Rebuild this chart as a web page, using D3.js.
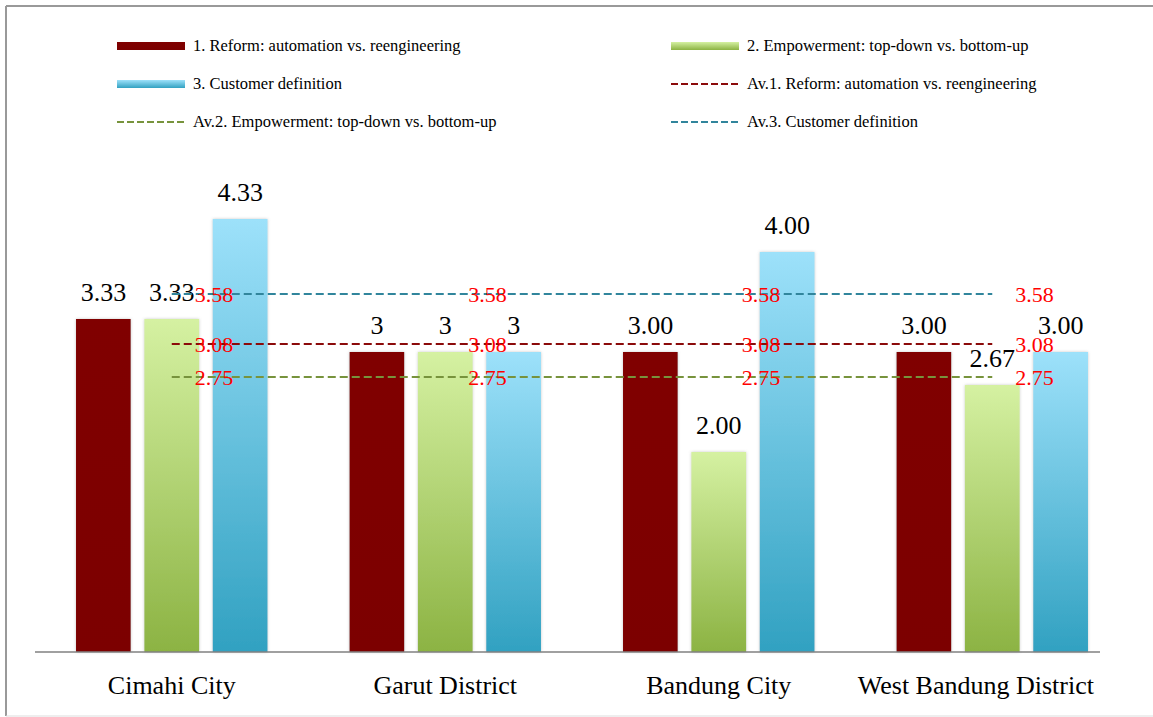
<!DOCTYPE html>
<html>
<head>
<meta charset="utf-8">
<script src="https://cdn.jsdelivr.net/npm/d3@7"></script>
<style>
  body { margin: 0; background: #fff; }
  text { font-family: "Liberation Serif", "Times New Roman", serif; }
</style>
</head>
<body>
<svg id="chart" width="1153" height="717"></svg>
<script>
const categories = ['Cimahi City', 'Garut District', 'Bandung City', 'West Bandung District']
const series = ['1. Reform: automation vs. reengineering', '2. Empowerment: top-down vs. bottom-up', '3. Customer definition']
const reform = [3.33, 3, 3, 3]
const empowerment = [3.33, 3, 2, 2.67]
const customer = [4.33, 3, 4, 3]
const reformLabels = ['3.33', '3', '3.00', '3.00']
const empowermentLabels = ['3.33', '3', '2.00', '2.67']
const customerLabels = ['4.33', '3', '4.00', '3.00']
const averages = [3.08, 2.75, 3.58]
const averageNames = ['Av.1. Reform: automation vs. reengineering', 'Av.2. Empowerment: top-down vs. bottom-up', 'Av.3. Customer definition']

const values = [reform, empowerment, customer]
const labels = [reformLabels, empowermentLabels, customerLabels]
const fills = ['url(#gRed)', 'url(#gGreen)', 'url(#gBlue)']
const lineColors = ['#8b0a0a', '#77933c', '#31859c']

const svg = d3.select('#chart')

// frame
svg.append('line').attr('x1', 6).attr('x2', 1153).attr('y1', 6).attr('y2', 6).attr('stroke', '#999').attr('stroke-width', 2)
svg.append('line').attr('x1', 6).attr('x2', 6).attr('y1', 6).attr('y2', 716).attr('stroke', '#999').attr('stroke-width', 2)
svg.append('line').attr('x1', 6).attr('x2', 1153).attr('y1', 716).attr('y2', 716).attr('stroke', '#ddd').attr('stroke-width', 1)

const defs = svg.append('defs')
function grad (id, top, bottom) {
  const g = defs.append('linearGradient').attr('id', id).attr('x1', 0).attr('x2', 0).attr('y1', 0).attr('y2', 1)
  g.append('stop').attr('offset', '0%').attr('stop-color', top)
  g.append('stop').attr('offset', '100%').attr('stop-color', bottom)
}
grad('gRed', '#800000', '#7c0000')
grad('gGreen', '#d5f1a2', '#8cb343')
grad('gBlue', '#9de1fa', '#31a1c1')
const f = defs.append('filter').attr('id', 'shadow').attr('x', '-20%').attr('y', '-5%').attr('width', '140%').attr('height', '110%')
f.append('feDropShadow').attr('dx', 0).attr('dy', 0).attr('stdDeviation', 1.5).attr('flood-color', '#888').attr('flood-opacity', 0.45)

const x = d3.scaleBand().domain(categories).range([35, 1129])
const xSub = d3.scaleBand().domain([0, 1, 2]).range([0, x.bandwidth()]).paddingInner(0.2).paddingOuter(0.6)
const y = d3.scaleLinear().domain([0, 5]).range([652, 152])

// bars
values.forEach((vals, s) => {
  svg.append('g').selectAll('rect')
    .data(vals)
    .enter()
    .append('rect')
    .attr('x', (d, i) => x(categories[i]) + xSub(s))
    .attr('y', d => y(d))
    .attr('width', xSub.bandwidth())
    .attr('height', d => y(0) - y(d))
    .attr('fill', fills[s])
    .attr('filter', 'url(#shadow)')
})

// axis baseline
svg.append('line').attr('x1', 35).attr('x2', 1100).attr('y1', y(0)).attr('y2', y(0)).attr('stroke', '#808080').attr('stroke-width', 1.5)

// value labels
labels.forEach((labs, s) => {
  svg.append('g').selectAll('text')
    .data(labs)
    .enter()
    .append('text')
    .attr('x', (d, i) => x(categories[i]) + xSub(s) + xSub.bandwidth() / 2)
    .attr('y', (d, i) => y(values[s][i]) - 18)
    .attr('text-anchor', 'middle')
    .attr('font-size', 26)
    .attr('fill', '#000')
    .text(d => d)
})

// average lines
const cx = c => x(c) + x.bandwidth() / 2
averages.forEach((a, s) => {
  svg.append('line')
    .attr('x1', cx(categories[0])).attr('x2', cx(categories[categories.length - 1]))
    .attr('y1', y(a)).attr('y2', y(a))
    .attr('stroke', lineColors[s]).attr('stroke-width', 2).attr('stroke-dasharray', '8,4')
  svg.append('g').selectAll('text')
    .data(categories)
    .enter()
    .append('text')
    .attr('x', c => cx(c) + 23)
    .attr('y', y(a) + 8)
    .attr('font-size', 22)
    .attr('fill', '#ff0000')
    .text(a.toFixed(2))
})

// category labels
svg.append('g').selectAll('text')
  .data(categories)
  .enter()
  .append('text')
  .attr('y', 694)
  .attr('font-size', 26)
  .attr('text-anchor', 'middle')
  .text(d => d)
  .attr('x', function (d) {
    const w = this.getComputedTextLength()
    return Math.min(cx(d), 1094 - w / 2)
  })

// legend
const legendItems = [
  { name: series[0], type: 'bar', fill: fills[0] },
  { name: series[1], type: 'bar', fill: fills[1] },
  { name: series[2], type: 'bar', fill: fills[2] },
  { name: averageNames[0], type: 'line', color: lineColors[0] },
  { name: averageNames[1], type: 'line', color: lineColors[1] },
  { name: averageNames[2], type: 'line', color: lineColors[2] }
]
const lg = svg.append('g').selectAll('g')
  .data(legendItems)
  .enter()
  .append('g')
  .attr('transform', (d, i) => 'translate(' + (i % 2 === 0 ? 117 : 671) + ',' + (46 + Math.floor(i / 2) * 38) + ')')
lg.filter(d => d.type === 'bar').append('rect')
  .attr('x', 0).attr('y', -4).attr('width', 68).attr('height', 8).attr('fill', d => d.fill)
lg.filter(d => d.type === 'line').append('line')
  .attr('x1', 0).attr('x2', 68).attr('y1', 0).attr('y2', 0)
  .attr('stroke', d => d.color).attr('stroke-width', 2).attr('stroke-dasharray', '7,3')
lg.append('text')
  .attr('x', 76).attr('y', 5)
  .attr('font-size', 16.5)
  .text(d => d.name)
</script>
</body>
</html>
